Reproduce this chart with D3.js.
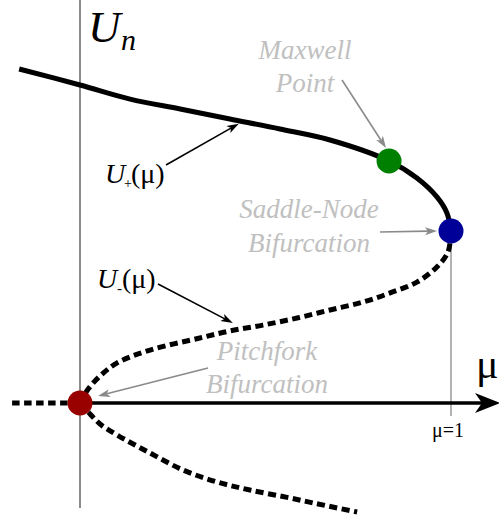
<!DOCTYPE html>
<html>
<head>
<meta charset="utf-8">
<script src="https://cdnjs.cloudflare.com/ajax/libs/d3/7.8.5/d3.min.js"></script>
</head>
<body style="margin:0">
<div id="chart"></div>
<script>
// branch values (mu, U)
const muUpper = [-0.164, 0, 0.135, 0.270, 0.404, 0.539, 0.674, 0.833, 0.908, 0.962, 0.989, 1.0];
const uUpper  = [1.942, 1.849, 1.767, 1.709, 1.651, 1.593, 1.529, 1.407, 1.308, 1.198, 1.105, 1.0];

const muMiddle = [1.0, 0.992, 0.962, 0.908, 0.836, 0.763, 0.674, 0.585, 0.493, 0.404, 0.323, 0.189, 0.100, 0.054, 0.022, 0];
const uMiddle  = [1.0, 0.878, 0.791, 0.703, 0.640, 0.587, 0.541, 0.494, 0.453, 0.419, 0.378, 0.308, 0.233, 0.157, 0.081, 0];

const muLower = [0, 0.022, 0.054, 0.100, 0.189, 0.278, 0.369, 0.458, 0.566, 0.628, 0.747];
const uLower  = [0, -0.052, -0.122, -0.186, -0.291, -0.390, -0.459, -0.506, -0.552, -0.581, -0.634];

const muZeroLeft = [-0.183, 0];

// special points
const pointNames = ["Pitchfork", "Saddle-Node", "Maxwell"];
const pointMu = [0, 1, 0.833];
const pointU = [0, 1, 1.407];
const pointColors = ["#990000", "#000099", "#008000"];

// text pieces: [text, x, y, size, italic, color, anchor]
const labels = [
  ["U", 88, 42, 45, true, "#000", "start"],
  ["n", 121, 50, 30, true, "#000", "start"],
  ["μ", 476, 378, 42, false, "#000", "start"],
  ["μ=1", 448, 437, 20, false, "#000", "middle"],
  ["U", 105, 183, 28, true, "#000", "start"],
  ["+", 124, 188, 14, false, "#000", "start"],
  ["(μ)", 131, 183, 28, false, "#000", "start"],
  ["U", 97, 288, 28, true, "#000", "start"],
  ["-", 117, 293, 15, false, "#000", "start"],
  ["(μ)", 122, 288, 28, false, "#000", "start"],
  ["Maxwell", 305, 59, 27, true, "#c0c0c0", "middle"],
  ["Point", 305, 92, 27, true, "#c0c0c0", "middle"],
  ["Saddle-Node", 309, 218, 27, true, "#c0c0c0", "middle"],
  ["Bifurcation", 309, 252, 27, true, "#c0c0c0", "middle"],
  ["Pitchfork", 267, 360, 27, true, "#c0c0c0", "middle"],
  ["Bifurcation", 267, 393, 27, true, "#c0c0c0", "middle"]
];

const W = 499, H = 518;

const x = d3.scaleLinear().domain([0, 1]).range([80, 451]);
const y = d3.scaleLinear().domain([0, 1]).range([403, 231]);

const svg = d3.select("#chart").append("svg")
  .attr("width", W).attr("height", H)
  .attr("style", "font-family: 'Times New Roman', 'Liberation Serif', serif");

// axes
svg.append("line")
  .attr("x1", x(0)).attr("x2", x(0))
  .attr("y1", 0).attr("y2", 508)
  .attr("stroke", "#8c8c8c").attr("stroke-width", 2);

svg.append("line")
  .attr("x1", x(1)).attr("x2", x(1))
  .attr("y1", y(1)).attr("y2", 416)
  .attr("stroke", "#9a9a9a").attr("stroke-width", 1.5);

svg.append("line")
  .attr("x1", x(0)).attr("x2", 486)
  .attr("y1", y(0)).attr("y2", y(0))
  .attr("stroke", "#000").attr("stroke-width", 3.5);

svg.append("path")
  .attr("d", `M500,${y(0)}L475,${y(0) - 10}L482,${y(0)}L475,${y(0) + 10}Z`)
  .attr("fill", "#000");

// branches
const line = d3.line()
  .x(d => x(d[0])).y(d => y(d[1]))
  .curve(d3.curveCatmullRom.alpha(0.5));

svg.append("path")
  .attr("d", line(d3.zip(muUpper, uUpper)))
  .attr("fill", "none").attr("stroke", "#000").attr("stroke-width", 5);

svg.append("path")
  .attr("d", line(d3.zip(muMiddle, uMiddle)))
  .attr("fill", "none").attr("stroke", "#000").attr("stroke-width", 5)
  .attr("stroke-dasharray", "8,4.5");

svg.append("path")
  .attr("d", line(d3.zip(muLower, uLower)))
  .attr("fill", "none").attr("stroke", "#000").attr("stroke-width", 5)
  .attr("stroke-dasharray", "8,4.5");

svg.append("path")
  .attr("d", d3.line().x(d => x(d)).y(() => y(0))(muZeroLeft))
  .attr("fill", "none").attr("stroke", "#000").attr("stroke-width", 5)
  .attr("stroke-dasharray", "7.5,4.5");

// special points
svg.selectAll("circle.pt")
  .data(pointNames)
  .join("circle")
    .attr("class", "pt")
    .attr("cx", (d, i) => x(pointMu[i]))
    .attr("cy", (d, i) => y(pointU[i]))
    .attr("r", 12.5)
    .attr("fill", (d, i) => pointColors[i]);

// annotation arrows, head drawn as a small path
function arrow(x1, y1, x2, y2, color) {
  const a = Math.atan2(y2 - y1, x2 - x1);
  const len = 12, half = 4;
  const bx = x2 - len * Math.cos(a), by = y2 - len * Math.sin(a);
  const nx = -Math.sin(a), ny = Math.cos(a);
  const mx = x2 - (len - 3) * Math.cos(a), my = y2 - (len - 3) * Math.sin(a);
  svg.append("line")
    .attr("x1", x1).attr("y1", y1).attr("x2", mx).attr("y2", my)
    .attr("stroke", color).attr("stroke-width", 1.6);
  svg.append("path")
    .attr("d", `M${x2},${y2}L${bx + nx * half},${by + ny * half}L${mx},${my}L${bx - nx * half},${by - ny * half}Z`)
    .attr("fill", color);
}
arrow(166, 165, x(0.428), y(1.624), "#000");
arrow(158, 284, x(0.412), y(0.465), "#000");
arrow(342, 80, x(pointMu[2]) - 3, y(pointU[2]) - 13, "#8a8a8a");
arrow(380, 232, x(pointMu[1]) - 14, y(pointU[1]), "#8a8a8a");
arrow(208, 368, x(pointMu[0]) + 18, y(pointU[0]) - 7, "#8a8a8a");

// all text
svg.selectAll("text.lbl").data(labels).join("text")
  .attr("class", "lbl")
  .attr("x", d => d[1]).attr("y", d => d[2])
  .attr("font-size", d => d[3])
  .style("font-family", d => `"Times New Roman"`)
  .style("font-style", d => d[4] ? "italic" : "normal")
  .attr("fill", d => d[5])
  .attr("text-anchor", d => d[6])
  .text(d => d[0]);
</script>
</body>
</html>
